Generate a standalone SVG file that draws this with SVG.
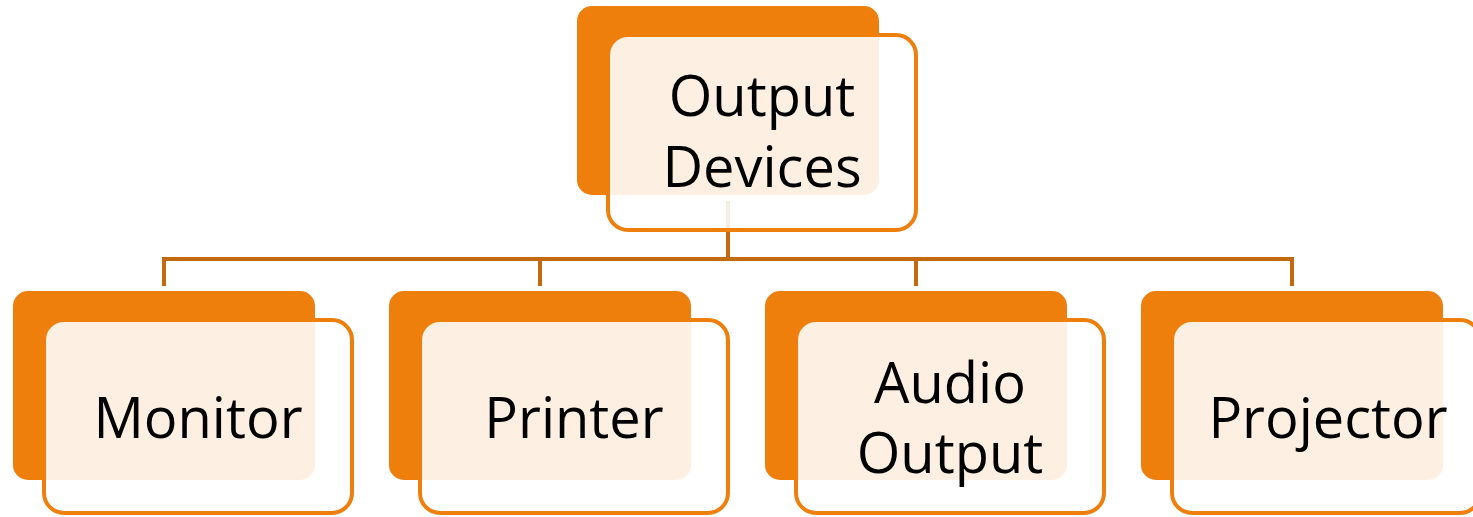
<svg xmlns="http://www.w3.org/2000/svg" width="1473" height="517" viewBox="0 0 1473 517">
<style>
.back{fill:#EF7F0C}
.front{fill:#FFFFFF;fill-opacity:0.88;stroke:#EF7F0C;stroke-width:4}
.conn{stroke:#C36A0E;stroke-width:4;fill:none}
.lbl{font-family:"Open Sans","Liberation Sans",sans-serif;font-size:56px;fill:#000;text-anchor:middle}
</style>
<rect width="1473" height="517" fill="#FFFFFF"/>
<g id="connectors">
<path class="conn" d="M728 201V259M162 259H1294M164 259V286M540 259V286M916 259V286M1292 259V286"/>
</g>
<g id="node-output-devices">
<rect class="back" x="577" y="6" width="302" height="189" rx="15"/>
<rect class="front" x="608" y="35" width="308" height="195" rx="20"/>
<text class="lbl"><tspan x="762" y="116">Output</tspan><tspan x="762" y="187">Devices</tspan></text>
</g>
<g id="node-monitor">
<rect class="back" x="13" y="291" width="302" height="189" rx="15"/>
<rect class="front" x="44" y="320" width="308" height="193" rx="20"/>
<text class="lbl" x="198" y="438">Monitor</text>
</g>
<g id="node-printer">
<rect class="back" x="389" y="291" width="302" height="189" rx="15"/>
<rect class="front" x="420" y="320" width="308" height="193" rx="20"/>
<text class="lbl" x="574" y="438">Printer</text>
</g>
<g id="node-audio-output">
<rect class="back" x="765" y="291" width="302" height="189" rx="15"/>
<rect class="front" x="796" y="320" width="308" height="193" rx="20"/>
<text class="lbl"><tspan x="950" y="403">Audio</tspan><tspan x="950" y="473">Output</tspan></text>
</g>
<g id="node-projector">
<rect class="back" x="1141" y="291" width="302" height="189" rx="15"/>
<rect class="front" x="1172" y="320" width="308" height="193" rx="20"/>
<text class="lbl" x="1328" y="438">Projector</text>
</g>
</svg>
